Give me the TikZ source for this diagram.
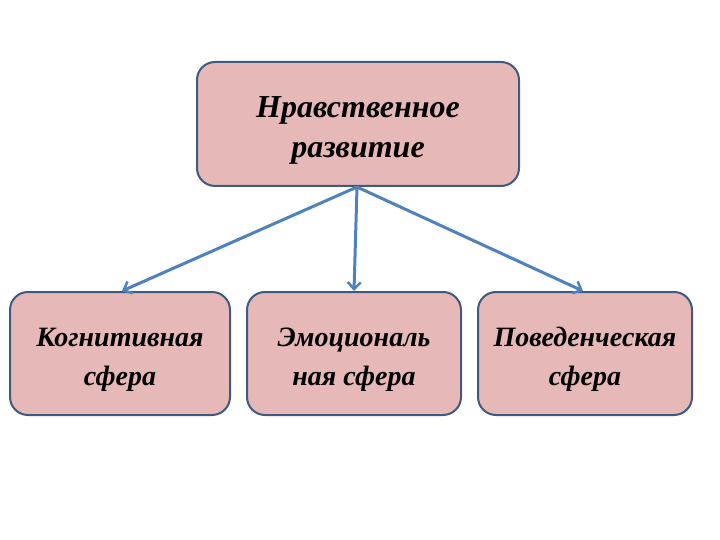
\documentclass[tikz,border=0pt]{standalone}
\usepackage{fontspec}
\setmainfont{Liberation Serif}
\usetikzlibrary{arrows.meta}
\definecolor{boxfill}{HTML}{E6B9B8}
\definecolor{boxline}{HTML}{3F5A80}
\definecolor{arrowc}{HTML}{4F81BD}
\tikzset{
  sbox/.style={draw=boxline, line width=2pt, fill=boxfill, rounded corners=18pt,
    inner sep=0pt, minimum height=123pt, minimum width=214pt},
  smalltext/.style={align=center, inner sep=0pt, font=\fontsize{28}{39}\selectfont\bfseries\itshape},
  bigtext/.style={align=center, inner sep=0pt, font=\fontsize{32}{40}\selectfont\bfseries\itshape},
  conn/.style={draw=arrowc, line width=3pt, -{Straight Barb[length=7pt,width=13pt,line width=2.5pt]}}
}
\begin{document}
\begin{tikzpicture}[x=1pt,y=-1pt]
\useasboundingbox (0,0) rectangle (720,540);
\node[sbox, minimum width=322pt, minimum height=124pt] (top) at (358,124) {};
\node[sbox, minimum width=220pt] (left) at (120,353.5) {};
\node[sbox] (mid) at (354,353.5) {};
\node[sbox] (right) at (585,353.5) {};
\node[bigtext] (topt) at ([yshift=-6pt]top.center) {Нравственное\\развитие};
\node[smalltext] (leftt) at ([yshift=-6pt]left.center) {Когнитивная\\сфера};
\node[smalltext] (midt) at ([yshift=-6pt]mid.center) {Эмоциональ\\ная сфера};
\node[smalltext] (rightt) at ([yshift=-6pt]right.center) {Поведенческая\\сфера};
\coordinate (src) at ([xshift=-1pt]top.south);
\draw[conn] (src) -- ([xshift=2pt]left.north);
\draw[conn] (src) -- (mid.north);
\draw[conn] (src) -- ([xshift=-2pt]right.north);
\end{tikzpicture}
\end{document}
